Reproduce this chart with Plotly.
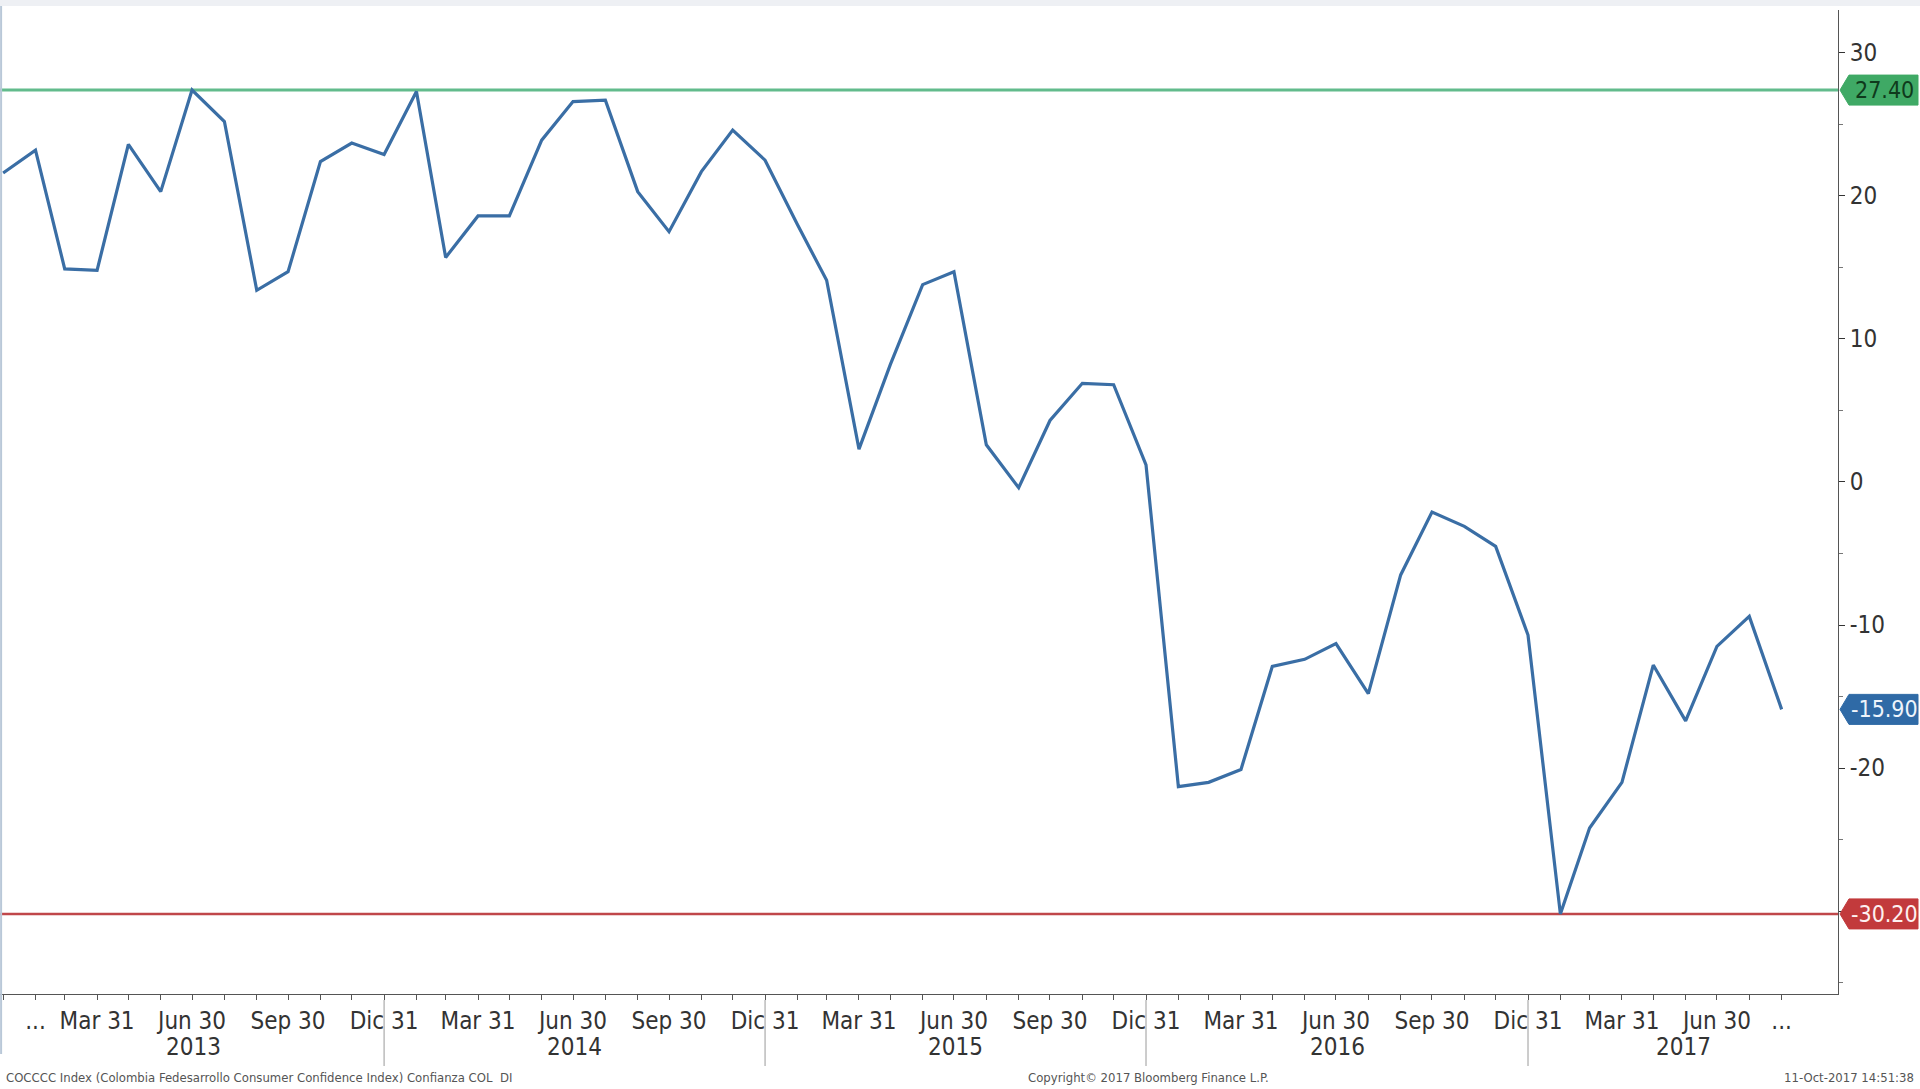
import pandas as pd
import plotly.graph_objects as go

# ---- data ----
months = pd.date_range("2012-12-31", periods=57, freq="ME")
values = [21.6, 23.2, 14.9, 14.8, 23.6, 20.3, 27.4, 25.2, 13.4, 14.7, 22.4, 23.7, 22.9,
          27.3, 15.7, 18.6, 18.6, 23.9, 26.6, 26.7, 20.3, 17.5, 21.7, 24.6, 22.5,
          18.0, 14.1, 2.3, 8.2, 13.8, 14.7, 2.6, -0.4, 4.3, 6.9, 6.8, 1.2,
          -21.3, -21.0, -20.1, -12.9, -12.4, -11.3, -14.8, -6.5, -2.1, -3.1, -4.5, -10.7,
          -30.2, -24.2, -21.0, -12.8, -16.7, -11.5, -9.4, -15.9]
quarter_names = {3: "Mar 31", 6: "Jun 30", 9: "Sep 30", 12: "Dic 31"}
years = [2013, 2014, 2015, 2016, 2017]
y_ticks = [-30, -20, -10, 0, 10, 20, 30]
y_ticktext = ["", "-20", "-10", "0", "10", "20", "30"]
footer_left = "COCCCC Index (Colombia Fedesarrollo Consumer Confidence Index) Confianza COL  DI"
footer_mid = "Copyright\u00a9 2017 Bloomberg Finance L.P."
footer_right = "11-Oct-2017 14:51:38"

# ---- layout constants ----
W, H = 1920, 1089
ML, MR, MT, MB = 0, 82, 10, 95
PW = W - ML - MR
PH = H - MT - MB
YMIN, YMAX = -35.8, 33.0
X0, X1 = pd.Timestamp("2012-12-28"), pd.Timestamp("2017-10-24")
FONT = "DejaVu Sans Condensed, Liberation Sans Narrow, Arial Narrow, sans-serif"

LINE_BLUE = "#3a6ea5"
GREEN_LINE = "#62bb8c"
RED_LINE = "#c0474a"

fig = go.Figure()
fig.add_trace(go.Scatter(x=months, y=values, mode="lines",
                         line=dict(color=LINE_BLUE, width=3.2), hoverinfo="skip",
                         showlegend=False))

# tick labels (month ends; labels at quarter ends)
tickvals, ticktext = [], []
for i, d in enumerate(months):
    tickvals.append(d)
    if i == 1 or i == len(months) - 1:
        ticktext.append("...")
    elif d.month in quarter_names and i > 0:
        ticktext.append(quarter_names[d.month])
    else:
        ticktext.append("")

vmax, vmin, vlast = max(values), min(values), values[-1]

shapes = []
annotations = []

# max / min horizontal lines
shapes.append(dict(type="line", xref="paper", yref="y", x0=0, x1=1, y0=vmax, y1=vmax,
                   line=dict(color=GREEN_LINE, width=3), layer="below"))
shapes.append(dict(type="line", xref="paper", yref="y", x0=0, x1=1, y0=vmin, y1=vmin,
                   line=dict(color=RED_LINE, width=2.5), layer="below"))


def to_paper_y(v):
    return (v - YMIN) / (YMAX - YMIN)


def value_box(v, fill, txtcolor, text):
    yc = to_paper_y(v)
    hh = 15 / PH
    xt = 1 + 2 / PW
    xa = 1 + 11 / PW
    xe = 1 + 80 / PW
    path = (f"M {xt},{yc} L {xa},{yc + hh} L {xe},{yc + hh} "
            f"L {xe},{yc - hh} L {xa},{yc - hh} Z")
    shapes.append(dict(type="path", xref="paper", yref="paper", path=path,
                       fillcolor=fill, line=dict(color=fill, width=1), layer="above"))
    annotations.append(dict(xref="paper", yref="y", x=1 + 46 / PW, y=v, text=text,
                            showarrow=False, xanchor="center", yanchor="middle",
                            font=dict(family=FONT, size=23, color=txtcolor)))


value_box(vmax, "#3fa965", "#0f3a1c", f"{vmax:.2f}")
value_box(vlast, "#2f6aa6", "#eef4fb", f"{vlast:.2f}")
value_box(vmin, "#c23a3c", "#fdf0f0", f"{vmin:.2f}")

# year separators and year labels
for yr in years[1:]:
    sep = pd.Timestamp(f"{yr - 1}-12-31")
    shapes.append(dict(type="line", xref="x", yref="paper", x0=sep, x1=sep,
                       y0=-6 / PH, y1=-72 / PH, line=dict(color="#9a9a9a", width=1)))
for yr in years:
    a = max(pd.Timestamp(f"{yr - 1}-12-31"), months[0])
    b = min(pd.Timestamp(f"{yr}-12-31"), X1)
    mid = a + (b - a) / 2
    annotations.append(dict(xref="x", yref="paper", x=mid, y=-53 / PH, text=str(yr),
                            showarrow=False, xanchor="center", yanchor="middle",
                            font=dict(family=FONT, size=24, color="#333333")))

# left border & top band
shapes.append(dict(type="line", xref="paper", yref="paper", x0=0.0006, x1=0.0006,
                   y0=-60 / PH, y1=1 + 10 / PH, line=dict(color="#b9c8d8", width=2)))
shapes.append(dict(type="rect", xref="paper", yref="paper", x0=0, x1=W / PW,
                   y0=1 + 4 / PH, y1=1 + 10 / PH, fillcolor="#eef0f4",
                   line=dict(width=0)))

# footer
fy = -83 / PH
annotations.append(dict(xref="paper", yref="paper", x=4 / PW, y=fy, text=footer_left,
                        showarrow=False, xanchor="left", yanchor="middle",
                        font=dict(family=FONT, size=13, color="#555555")))
annotations.append(dict(xref="paper", yref="paper", x=1148 / PW, y=fy, text=footer_mid,
                        showarrow=False, xanchor="center", yanchor="middle",
                        font=dict(family=FONT, size=13, color="#555555")))
annotations.append(dict(xref="paper", yref="paper", x=1916 / PW, y=fy, text=footer_right,
                        showarrow=False, xanchor="right", yanchor="middle",
                        font=dict(family=FONT, size=13, color="#555555")))

fig.update_layout(
    width=W, height=H,
    margin=dict(l=ML, r=MR, t=MT, b=MB, pad=0),
    paper_bgcolor="white", plot_bgcolor="white",
    showlegend=False,
    shapes=shapes, annotations=annotations,
    font=dict(family=FONT, color="#333333"),
    xaxis=dict(type="date", range=[X0, X1], tickmode="array", tickvals=tickvals,
               ticktext=ticktext, ticks="outside", ticklen=5, tickcolor="#555555",
               showline=True, linecolor="#555555", linewidth=1, showgrid=False,
               zeroline=False, tickangle=0,
               tickfont=dict(family=FONT, size=24, color="#333333")),
    yaxis=dict(side="right", range=[YMIN, YMAX], tickmode="array", tickvals=y_ticks,
               ticktext=y_ticktext, ticks="outside", ticklen=6,
               tickcolor="#333333", showline=True, linecolor="#555555", linewidth=1,
               showgrid=False, zeroline=False,
               minor=dict(tickvals=[-35, -25, -15, -5, 5, 15, 25], ticks="outside",
                          ticklen=4, tickcolor="#777777"),
               tickfont=dict(family=FONT, size=24, color="#333333")),
)

fig.write_html("out.html",
               config={"displayModeBar": False},
               post_script="document.body.style.margin='0';"
                           "document.body.style.overflow='hidden';")
